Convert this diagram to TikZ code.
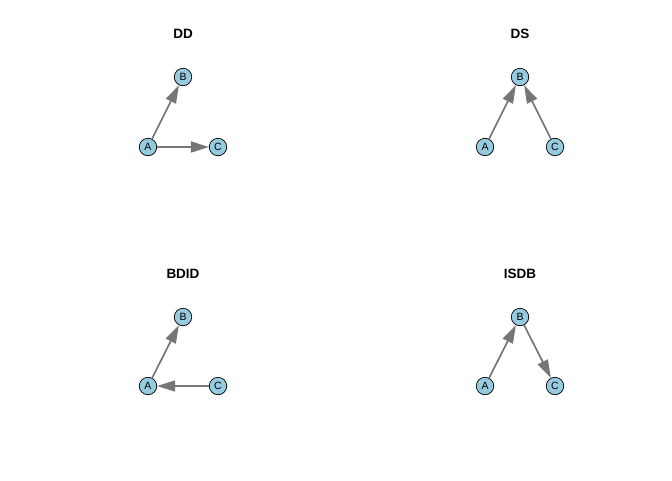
\documentclass[tikz,border=0pt]{standalone}
\usepackage{fontspec}
\setmainfont{Liberation Sans}
\usetikzlibrary{arrows.meta}

\definecolor{vblue}{RGB}{150,202,222}
\definecolor{egray}{RGB}{118,118,118}

\tikzset{
  vertex/.style={circle,draw=black,fill=vblue,line width=0.7pt,minimum size=17.5pt,inner sep=0pt,font=\fontsize{10.5}{11}\selectfont},
  edge/.style={draw=egray,line width=1.7pt,-{Triangle[length=18pt,width=11pt]}},
  paneltitle/.style={font=\fontsize{13.5}{15}\selectfont\bfseries}
}

\begin{document}
\begin{tikzpicture}[x=1pt,y=-1pt]
  \useasboundingbox (0,0) rectangle (672,480);

  % top left: DD
  \node[paneltitle] (tDD) at (183,34) {DD};
  \node[vertex] (A1) at (148,147) {A};
  \node[vertex] (B1) at (183,77) {B};
  \node[vertex] (C1) at (218,147) {C};
  \draw[edge] (A1) -- (B1);
  \draw[edge] (A1) -- (C1);

  % top right: DS
  \node[paneltitle] (tDS) at (520,34) {DS};
  \node[vertex] (A2) at (485,147) {A};
  \node[vertex] (B2) at (520,77) {B};
  \node[vertex] (C2) at (555,147) {C};
  \draw[edge] (A2) -- (B2);
  \draw[edge] (C2) -- (B2);

  % bottom left: BDID
  \node[paneltitle] (tBDID) at (183,274) {BDID};
  \node[vertex] (A3) at (148,386) {A};
  \node[vertex] (B3) at (183,317) {B};
  \node[vertex] (C3) at (218,386) {C};
  \draw[edge] (A3) -- (B3);
  \draw[edge] (C3) -- (A3);

  % bottom right: ISDB
  \node[paneltitle] (tISDB) at (520,274) {ISDB};
  \node[vertex] (A4) at (485,386) {A};
  \node[vertex] (B4) at (520,317) {B};
  \node[vertex] (C4) at (555,386) {C};
  \draw[edge] (A4) -- (B4);
  \draw[edge] (B4) -- (C4);
\end{tikzpicture}
\end{document}
